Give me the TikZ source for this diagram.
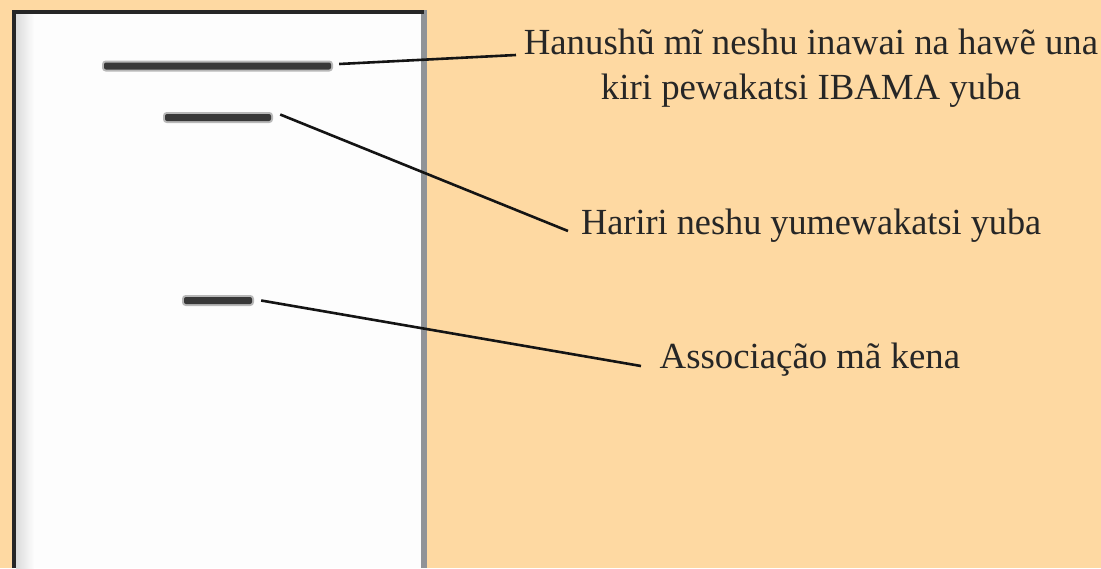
\documentclass[tikz,border=0pt]{standalone}
\usepackage{fontspec}
\setmainfont{Liberation Serif}
\definecolor{peach}{HTML}{FED9A2}
\definecolor{pagewhite}{HTML}{FDFDFD}
\definecolor{rightedge}{HTML}{909397}
\definecolor{leftedge}{HTML}{262626}
\definecolor{ink}{HTML}{262626}
\tikzset{
  blurbar/.style={draw=none, fill=black!78, rounded corners=2pt, inner sep=0pt,
    minimum height=7pt, preaction={draw=black!28, line width=4pt, rounded corners=3pt}},
  label/.style={inner sep=0pt, text=ink, font=\fontsize{36.8}{44.3}\selectfont},
  leader/.style={draw=black!92, line width=2.6pt},
}
\begin{document}
\begin{tikzpicture}[x=1pt, y=-1pt]
\useasboundingbox (0,0) rectangle (1101,568);
\fill[peach] (0,0) rectangle (1101,568);
% page
\fill[pagewhite] (12,10) rectangle (427,568);
\shade[left color=black!14, right color=pagewhite] (16,13) rectangle (34,568);
\fill[rightedge] (421,10) rectangle (427,568);
\fill[leftedge] (12,10) rectangle (16,568);
\fill[leftedge] (12,10) rectangle (424,13.5);
% blurred page texts
\node[blurbar, minimum width=227pt] (b1) at (217.5,66) {};
\node[blurbar, minimum width=106pt] (b2) at (218,117.5) {};
\node[blurbar, minimum width=68pt] (b3) at (218,300.5) {};
% labels
\node[label, align=center, anchor=north] (l1) at (811,29)
  {Hanushũ mĩ neshu inawai na hawẽ una\\kiri pewakatsi IBAMA yuba};
\node[label, anchor=base west, xscale=0.985] (l2) at (581,234) {Hariri neshu yumewakatsi yuba};
\node[label, anchor=base west] (l3) at (659.5,368.5) {Associação mã kena};
% connector ends
\coordinate (c1) at (516,55);
\coordinate (c2) at (568,231);
\coordinate (c3) at (641,366);
\draw[leader] ([xshift=8pt,yshift=2pt]b1.east) -- (c1);
\draw[leader] ([xshift=9pt,yshift=3pt]b2.east) -- (c2);
\draw[leader] ([xshift=9pt]b3.east) -- (c3);
\end{tikzpicture}
\end{document}
